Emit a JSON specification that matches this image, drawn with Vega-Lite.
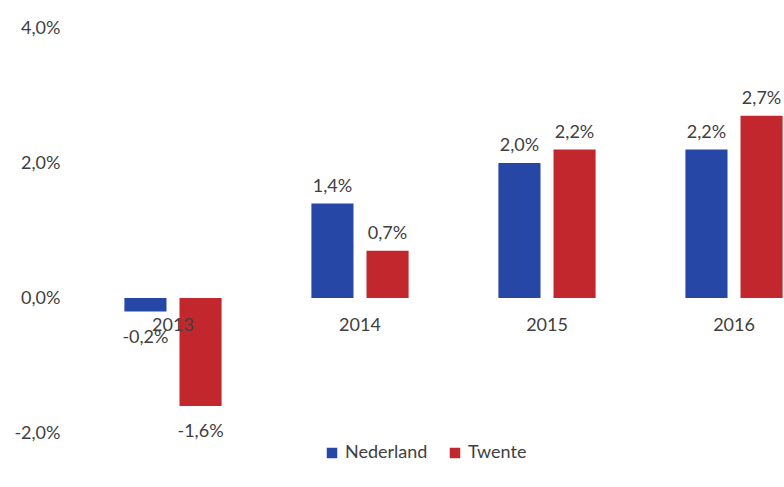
{
  "$schema": "https://vega.github.io/schema/vega-lite/v6.json",
  "width": 763,
  "height": 405,
  "autosize": "none",
  "padding": {"left": 72, "top": 28, "right": 0, "bottom": 54},
  "background": "white",
  "config": {
    "locale": {"number": {"decimal": ",", "thousands": ".", "grouping": [3], "currency": ["€", ""], "minus": "-"}},
    "view": {"stroke": null},
    "font": "Lato"
  },
  "data": {
    "values": [
      {"year": "2013", "region": "Nederland", "value": -0.002},
      {"year": "2013", "region": "Twente", "value": -0.016},
      {"year": "2014", "region": "Nederland", "value": 0.014},
      {"year": "2014", "region": "Twente", "value": 0.007},
      {"year": "2015", "region": "Nederland", "value": 0.020},
      {"year": "2015", "region": "Twente", "value": 0.022},
      {"year": "2016", "region": "Nederland", "value": 0.022},
      {"year": "2016", "region": "Twente", "value": 0.027}
    ]
  },
  "encoding": {
    "x": {"field": "year", "type": "nominal", "scale": {"paddingInner": 0.4, "paddingOuter": 0.24}, "axis": null},
    "y": {
      "field": "value", "type": "quantitative",
      "scale": {"domain": [-0.02, 0.04], "nice": false, "zero": false},
      "axis": {"values": [-0.02, 0, 0.02, 0.04], "format": ".1%", "domain": false, "ticks": false, "grid": false, "labelFontSize": 18, "labelColor": "#404040", "labelPadding": 12, "title": null}
    }
  },
  "layer": [
    {
      "mark": {"type": "bar"},
      "encoding": {
        "xOffset": {"field": "region", "type": "nominal", "sort": ["Nederland", "Twente"], "scale": {"paddingInner": 0.236, "paddingOuter": 0.136}},
        "color": {
          "field": "region", "type": "nominal",
          "scale": {"domain": ["Nederland", "Twente"], "range": ["#2747a6", "#c1272d"]},
          "legend": {"orient": "none", "legendX": 251, "legendY": 416, "direction": "horizontal", "title": null, "symbolType": "square", "symbolSize": 110, "symbolStrokeWidth": 0, "labelFontSize": 18, "labelColor": "#404040", "columnPadding": 18, "labelOffset": 4}
        }
      }
    },
    {
      "transform": [{"filter": "datum.value >= 0"}],
      "mark": {"type": "text", "baseline": "alphabetic", "dy": -12, "fontSize": 18, "color": "#404040"},
      "encoding": {
        "xOffset": {"field": "region", "type": "nominal", "sort": ["Nederland", "Twente"], "scale": {"paddingInner": 0.236, "paddingOuter": 0.136}},
        "text": {"field": "value", "type": "quantitative", "format": ".1%"}
      }
    },
    {
      "transform": [{"filter": "datum.value < 0"}],
      "mark": {"type": "text", "baseline": "top", "dy": 17, "fontSize": 18, "color": "#404040"},
      "encoding": {
        "xOffset": {"field": "region", "type": "nominal", "sort": ["Nederland", "Twente"], "scale": {"paddingInner": 0.236, "paddingOuter": 0.136}},
        "text": {"field": "value", "type": "quantitative", "format": ".1%"}
      }
    },
    {
      "transform": [{"filter": "datum.region == 'Nederland'"}],
      "mark": {"type": "text", "baseline": "top", "dy": 19, "fontSize": 18, "color": "#404040"},
      "encoding": {
        "y": {"datum": 0},
        "text": {"field": "year", "type": "nominal"}
      }
    }
  ]
}
